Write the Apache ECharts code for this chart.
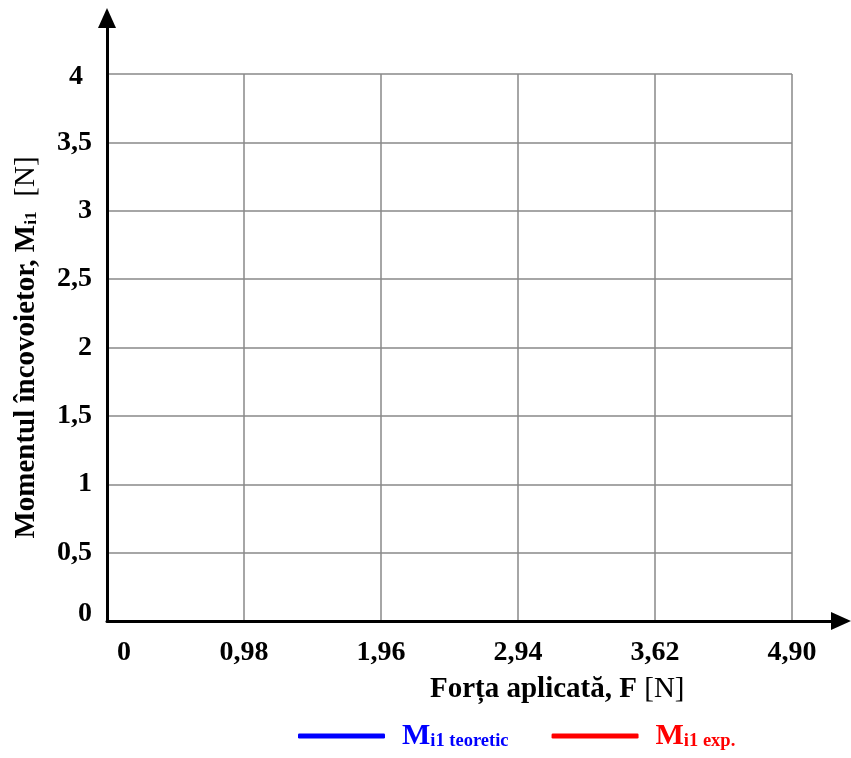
<!DOCTYPE html>
<html>
<head>
<meta charset="utf-8">
<script src="https://cdn.jsdelivr.net/npm/echarts@6/dist/echarts.min.js"></script>
<style>
  html, body { margin: 0; padding: 0; background: #fff; }
  #chart { width: 851px; height: 758px; }
</style>
</head>
<body>
<div id="chart"></div>
<script>
// Applied force F [N] – tick labels of the horizontal axis
const forceLabels = ['0', '0,98', '1,96', '2,94', '3,62', '4,90'];
// Bending moment axis range [N]
const momentMin = 0;
const momentMax = 4;
const momentStep = 0.5;
// Series shown in the legend (no measurements plotted yet)
const seriesNames = ['teoretic', 'exp'];
const seriesSubscripts = ['i1 teoretic', 'i1 exp.'];
const seriesColors = ['#0000ff', '#ff0000'];
const theoreticValues = [];
const experimentalValues = [];

const FONT = 'Liberation Serif';
const LABEL_SIZE = 28;
const chart = echarts.init(document.getElementById('chart'), null, { renderer: 'canvas' });

const labelBase = { fontFamily: FONT, fontWeight: 'bold', fontSize: LABEL_SIZE, color: '#000' };

const legendRich = {};
seriesNames.forEach(function (n, i) {
  legendRich['m' + i] = { fontFamily: FONT, fontWeight: 'bold', fontSize: 30, color: seriesColors[i], padding: [0, 0, 0, 12] };
  legendRich['s' + i] = { fontFamily: FONT, fontWeight: 'bold', fontSize: 18.5, color: seriesColors[i], padding: [10, 0, 0, 0] };
});

const option = {
  animation: false,
  backgroundColor: '#ffffff',
  title: {
    text: '{b|Forța aplicată, F }{n|[N]}',
    left: 425,
    top: 670,
    textStyle: {
      rich: {
        b: { fontFamily: FONT, fontWeight: 'bold', fontSize: 29, color: '#000' },
        n: { fontFamily: FONT, fontWeight: 'normal', fontSize: 29, color: '#000' }
      }
    }
  },
  legend: {
    left: 293,
    top: 716,
    itemWidth: 87,
    itemHeight: 5,
    itemGap: 43,
    icon: 'roundRect',
    data: seriesNames,
    formatter: function (name) {
      const i = seriesNames.indexOf(name);
      return '{m' + i + '|M}{s' + i + '|' + seriesSubscripts[i] + '}';
    },
    textStyle: { rich: legendRich }
  },
  grid: [
    { left: 107, right: 59, top: 74, bottom: 137, outerBoundsMode: 'none', containLabel: false },
    { left: 107, right: 10, top: 18, bottom: 137, outerBoundsMode: 'none', containLabel: false }
  ],
  xAxis: [
    {
      gridIndex: 0,
      type: 'category',
      data: forceLabels,
      boundaryGap: false,
      axisLine: { show: false },
      axisTick: { show: false },
      splitLine: { show: true, lineStyle: { color: '#888888', width: 1.5 } },
      axisLabel: Object.assign({}, labelBase, {
        margin: 18,
        interval: 0,
        formatter: function (v, idx) { return idx === 0 ? '{first|' + v + '}' : v; },
        rich: { first: Object.assign({}, labelBase, { padding: [0, 0, 0, 34] }) }
      })
    },
    {
      gridIndex: 1,
      type: 'value',
      min: 0,
      max: 1,
      z: 5,
      axisLine: { show: true, symbol: ['none', 'triangle'], symbolSize: [18, 20], lineStyle: { color: '#000', width: 3 } },
      axisTick: { show: false },
      axisLabel: { show: false },
      splitLine: { show: false }
    }
  ],
  yAxis: [
    {
      gridIndex: 0,
      type: 'value',
      min: momentMin,
      max: momentMax,
      interval: momentStep,
      axisLine: { show: false },
      axisTick: { show: false },
      splitLine: { show: true, lineStyle: { color: '#888888', width: 1.5 } },
      axisLabel: Object.assign({}, labelBase, {
        margin: 15,
        formatter: function (v) {
          const s = String(v).replace('.', ',');
          if (v === momentMin) return '{low|' + s + '}';
          if (v === momentMax) return '{high|' + s + '}';
          return s;
        },
        rich: {
          low: Object.assign({}, labelBase, { padding: [0, 0, 14, 0] }),
          high: Object.assign({}, labelBase, { padding: [6, 9, 0, 0] })
        }
      }),
      name: '{b|Momentul încovoietor, M}{s|i1}{n|  [N]}',
      nameLocation: 'middle',
      nameGap: 66,
      nameTextStyle: {
        rich: {
          b: { fontFamily: FONT, fontWeight: 'bold', fontSize: 29, color: '#000' },
          s: { fontFamily: FONT, fontWeight: 'bold', fontSize: 17.5, color: '#000', padding: [9, 0, 0, 0] },
          n: { fontFamily: FONT, fontWeight: 'normal', fontSize: 29, color: '#000' }
        }
      }
    },
    {
      gridIndex: 1,
      type: 'value',
      min: 0,
      max: 1,
      z: 5,
      axisLine: { show: true, symbol: ['none', 'triangle'], symbolSize: [18, 20], lineStyle: { color: '#000', width: 3 } },
      axisTick: { show: false },
      axisLabel: { show: false },
      splitLine: { show: false }
    }
  ],
  series: [
    {
      name: seriesNames[0],
      type: 'line',
      xAxisIndex: 0,
      yAxisIndex: 0,
      data: theoreticValues,
      showSymbol: false,
      itemStyle: { color: seriesColors[0] },
      lineStyle: { color: seriesColors[0], width: 4 }
    },
    {
      name: seriesNames[1],
      type: 'line',
      xAxisIndex: 0,
      yAxisIndex: 0,
      data: experimentalValues,
      showSymbol: false,
      itemStyle: { color: seriesColors[1] },
      lineStyle: { color: seriesColors[1], width: 4 }
    }
  ]
};

chart.setOption(option);
</script>
</body>
</html>
